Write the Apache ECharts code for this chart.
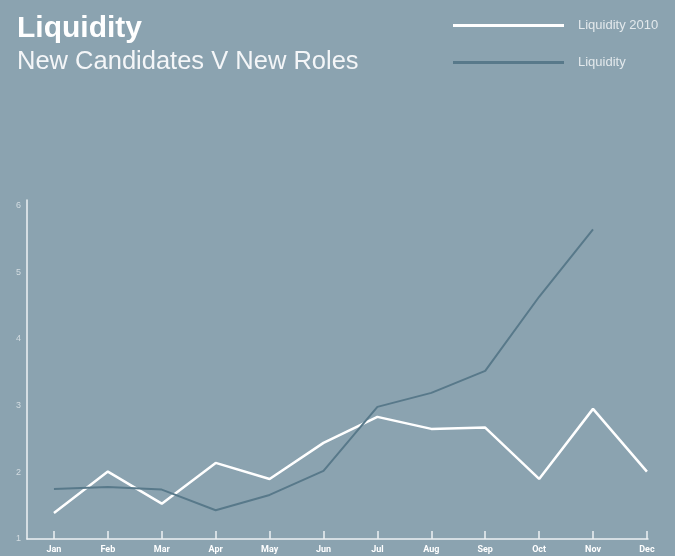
<!DOCTYPE html>
<html>
<head>
<meta charset="utf-8">
<script src="https://cdn.jsdelivr.net/npm/echarts@6/dist/echarts.min.js"></script>
<style>
html,body{margin:0;padding:0;background:#8ba3b0;}
#chart{width:675px;height:556px;}
</style>
</head>
<body>
<div id="chart"></div>
<script>
var months = ['Jan','Feb','Mar','Apr','May','Jun','Jul','Aug','Sep','Oct','Nov','Dec'];
var liquidity2010 = [1.39, 2.01, 1.53, 2.14, 1.90, 2.44, 2.83, 2.65, 2.67, 1.90, 2.95, 2.01];
var liquidity = [1.75, 1.78, 1.74, 1.43, 1.66, 2.02, 2.98, 3.19, 3.52, 4.63, 5.64, null];
var yTicks = [1, 2, 3, 4, 5, 6];

var idx = months.map(function(m, i){ return i; });
function pairs(arr){ return arr.map(function(v, i){ return [i, v]; }); }

var chart = echarts.init(document.getElementById('chart'));
chart.setOption({
  backgroundColor: '#8ba3b0',
  animation: false,
  title: {
    text: 'Liquidity',
    subtext: 'New Candidates V New Roles',
    left: 12,
    top: 9,
    itemGap: 5,
    textStyle: { color: '#ffffff', fontFamily: 'Liberation Sans', fontWeight: 'bold', fontSize: 30 },
    subtextStyle: { color: '#f4f6f8', fontFamily: 'Liberation Sans', fontWeight: 'normal', fontSize: 25.5 }
  },
  legend: {
    show: true,
    orient: 'vertical',
    left: 448,
    top: 14,
    icon: 'rect',
    itemWidth: 111,
    itemHeight: 3,
    itemGap: 24,
    textStyle: { color: '#e3e9ec', fontFamily: 'Liberation Sans', fontSize: 13, padding: [0, 0, 6, 9] },
    data: ['Liquidity 2010', 'Liquidity']
  },
  grid: { left: 27, right: 27, top: 200, bottom: 17, containLabel: false },
  xAxis: {
    type: 'value',
    min: -0.5,
    max: 11.02,
    splitLine: { show: false },
    axisLine: { show: true, onZero: false, lineStyle: { color: '#eef2f4', width: 1.5 } },
    axisTick: { show: true, inside: true, length: 8, customValues: idx, lineStyle: { color: '#eef2f4', width: 1.5 } },
    axisLabel: {
      customValues: idx,
      margin: 6,
      color: '#ffffff',
      fontFamily: 'Roboto',
      fontWeight: 'bold',
      fontSize: 9,
      formatter: function(v){ return months[Math.round(v)]; }
    }
  },
  yAxis: {
    type: 'value',
    min: 1,
    max: 6.08,
    splitLine: { show: false },
    axisLine: { show: true, onZero: false, lineStyle: { color: '#eef2f4', width: 1.5 } },
    axisTick: { show: false },
    axisLabel: {
      customValues: yTicks,
      margin: 6,
      color: '#d3dce1',
      fontFamily: 'Liberation Sans',
      fontSize: 9
    }
  },
  series: [
    {
      name: 'Liquidity 2010',
      type: 'line',
      data: pairs(liquidity2010),
      symbol: 'none',
      showSymbol: false,
      lineStyle: { color: '#ffffff', width: 2.5 },
      itemStyle: { color: '#ffffff' }
    },
    {
      name: 'Liquidity',
      type: 'line',
      data: pairs(liquidity),
      symbol: 'none',
      showSymbol: false,
      lineStyle: { color: '#58798a', width: 2 },
      itemStyle: { color: '#58798a' }
    }
  ]
});
</script>
</body>
</html>
